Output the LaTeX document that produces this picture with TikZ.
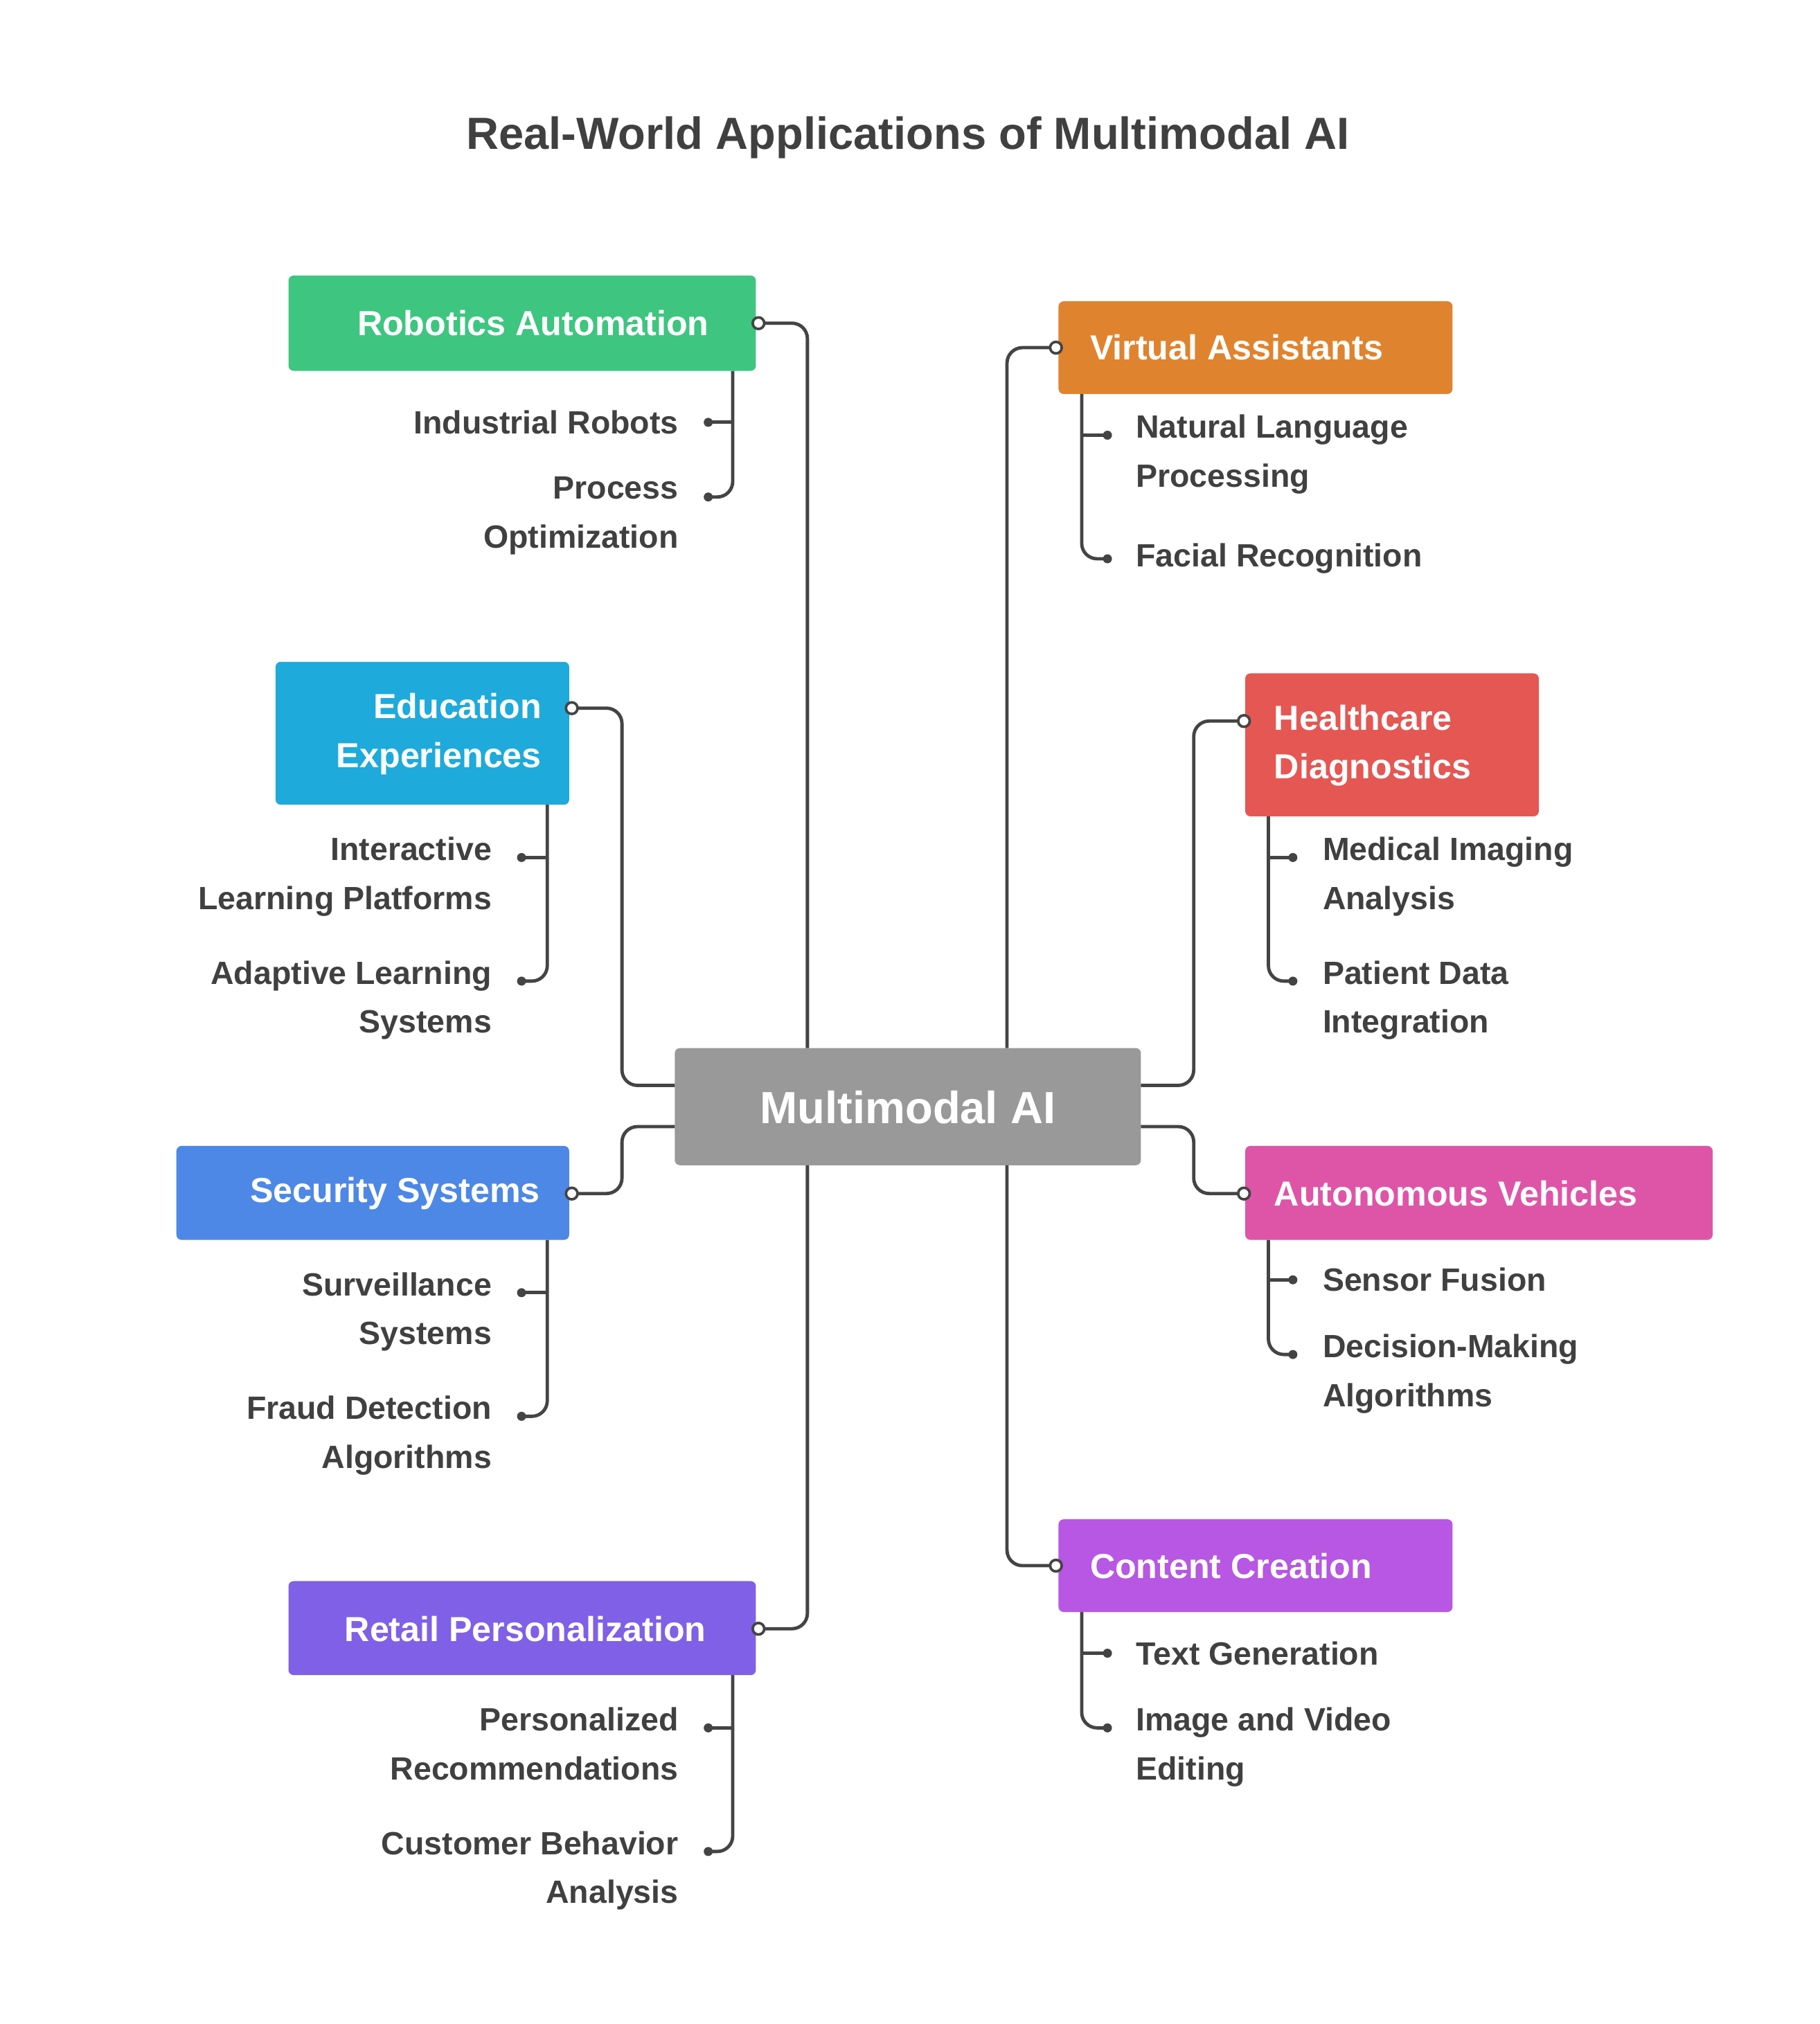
\documentclass[tikz,border=0pt]{standalone}
\usepackage{fontspec}
\setmainfont{Liberation Sans}
\definecolor{ln}{HTML}{444444}
\definecolor{tx}{HTML}{404040}
\definecolor{cgreen}{HTML}{3EC57F}
\definecolor{corange}{HTML}{E0832F}
\definecolor{cblue}{HTML}{1EAADB}
\definecolor{cred}{HTML}{E55753}
\definecolor{csec}{HTML}{4D88E6}
\definecolor{cpink}{HTML}{DE55A8}
\definecolor{cpurp}{HTML}{7F60E6}
\definecolor{cviol}{HTML}{B757E3}
\begin{document}
\begin{tikzpicture}[x=1pt,y=-1pt,
  box/.style={fill=#1,rounded corners=4pt,draw=none},
  boxtext/.style={text=white,font=\fontsize{27}{38}\selectfont\bfseries},
  sub/.style={text=tx,font=\fontsize{25}{38}\selectfont\bfseries,inner sep=0pt},
  conn/.style={draw=ln,line width=2.6pt,rounded corners=12pt},
  hole/.style={circle,draw=ln,fill=white,line width=2pt,inner sep=0pt,minimum size=9pt},
  pin/.style={circle,fill=ln,inner sep=0pt,minimum size=7pt}]
\useasboundingbox (0,0) rectangle (1413,1572);
\node[text=tx,font=\fontsize{35}{42}\selectfont\bfseries] (title) at (705,107) {Real-World Applications of Multimodal AI};

% center
\fill[box=gray!80] (524,814) rectangle (886,905);
\node[boxtext,font=\fontsize{35}{42}\selectfont\bfseries] (c) at (705,860) {Multimodal AI};
\coordinate (ct) at (705,814);

% Robotics
\path[conn] (589,251) -- (627,251) -- (627,814);
\path[conn] (569,288) -- (569,386) -- (550,386);
\path[conn] (569,328) -- (550,328);
\fill[box=cgreen] (224,214) rectangle (587,288);
\node[boxtext] (rob) at (414,251) {Robotics Automation};
\node[hole] (robd) at (589,251) {};
\node[pin] at (550,328) {}; \node[pin] at (550,386) {};
\node[sub,anchor=east] (r1) at (527,328) {Industrial Robots};
\node[sub,anchor=north east,align=right] (r2) at (527,370) {Process\\Optimization};

% Virtual
\path[conn] (820,270) -- (782,270) -- (782,814);
\path[conn] (840,306) -- (840,434) -- (860,434);
\path[conn] (840,338) -- (860,338);
\fill[box=corange] (822,234) rectangle (1128,306);
\node[boxtext,anchor=west] (va) at (843,270) {Virtual Assistants};
\node[hole] at (820,270) {};
\node[pin] at (860,338) {}; \node[pin] at (860,434) {};
\node[sub,anchor=north west,align=left] (v1) at (882,322) {Natural Language\\Processing};
\node[sub,anchor=west] (v2) at (882,434) {Facial Recognition};

% Education
\path[conn] (444,550) -- (483,550) -- (483,843) -- (524,843);
\path[conn] (425,625) -- (425,762) -- (405,762);
\path[conn] (425,666) -- (405,666);
\fill[box=cblue] (214,514) rectangle (442,625);
\node[boxtext,anchor=east,align=right] (ed) at (424,570) {Education\\Experiences};
\node[hole] at (444,550) {};
\node[pin] at (405,666) {}; \node[pin] at (405,762) {};
\node[sub,anchor=north east,align=right] (e1) at (382,650) {Interactive\\Learning Platforms};
\node[sub,anchor=north east,align=right] (e2) at (382,746) {Adaptive Learning\\Systems};

% Healthcare
\path[conn] (966,560) -- (927,560) -- (927,843) -- (886,843);
\path[conn] (985,634) -- (985,762) -- (1004,762);
\path[conn] (985,666) -- (1004,666);
\fill[box=cred] (967,523) rectangle (1195,634);
\node[boxtext,anchor=west,align=left] (hc) at (986,579) {Healthcare\\Diagnostics};
\node[hole] at (966,560) {};
\node[pin] at (1004,666) {}; \node[pin] at (1004,762) {};
\node[sub,anchor=north west,align=left] (h1) at (1027,650) {Medical Imaging\\Analysis};
\node[sub,anchor=north west,align=left] (h2) at (1027,746) {Patient Data\\Integration};

% Security
\path[conn] (444,927) -- (483,927) -- (483,875) -- (524,875);
\path[conn] (425,963) -- (425,1100) -- (405,1100);
\path[conn] (425,1004) -- (405,1004);
\fill[box=csec] (137,890) rectangle (442,963);
\node[boxtext,anchor=east] (sec) at (423,927) {Security Systems};
\node[hole] at (444,927) {};
\node[pin] at (405,1004) {}; \node[pin] at (405,1100) {};
\node[sub,anchor=north east,align=right] (s1) at (382,988) {Surveillance\\Systems};
\node[sub,anchor=north east,align=right] (s2) at (382,1084) {Fraud Detection\\Algorithms};

% Autonomous
\path[conn] (966,927) -- (927,927) -- (927,875) -- (886,875);
\path[conn] (985,963) -- (985,1052) -- (1004,1052);
\path[conn] (985,994) -- (1004,994);
\fill[box=cpink] (967,890) rectangle (1330,963);
\node[boxtext,anchor=west] (av) at (986,927) {Autonomous Vehicles};
\node[hole] at (966,927) {};
\node[pin] at (1004,994) {}; \node[pin] at (1004,1052) {};
\node[sub,anchor=west] (a1) at (1027,994) {Sensor Fusion};
\node[sub,anchor=north west,align=left] (a2) at (1027,1036) {Decision-Making\\Algorithms};

% Retail
\path[conn] (589,1265) -- (627,1265) -- (627,905);
\path[conn] (569,1301) -- (569,1438) -- (550,1438);
\path[conn] (569,1342) -- (550,1342);
\fill[box=cpurp] (224,1228) rectangle (587,1301);
\node[boxtext] (ret) at (408,1265) {Retail Personalization};
\node[hole] at (589,1265) {};
\node[pin] at (550,1342) {}; \node[pin] at (550,1438) {};
\node[sub,anchor=north east,align=right] (p1) at (527,1326) {Personalized\\Recommendations};
\node[sub,anchor=north east,align=right] (p2) at (527,1422) {Customer Behavior\\Analysis};

% Content
\path[conn] (820,1216) -- (782,1216) -- (782,905);
\path[conn] (840,1252) -- (840,1342) -- (860,1342);
\path[conn] (840,1284) -- (860,1284);
\fill[box=cviol] (822,1180) rectangle (1128,1252);
\node[boxtext,anchor=west] (cc) at (843,1216) {Content Creation};
\node[hole] at (820,1216) {};
\node[pin] at (860,1284) {}; \node[pin] at (860,1342) {};
\node[sub,anchor=west] (k1) at (882,1284) {Text Generation};
\node[sub,anchor=north west,align=left] (k2) at (882,1326) {Image and Video\\Editing};
\end{tikzpicture}
\end{document}
